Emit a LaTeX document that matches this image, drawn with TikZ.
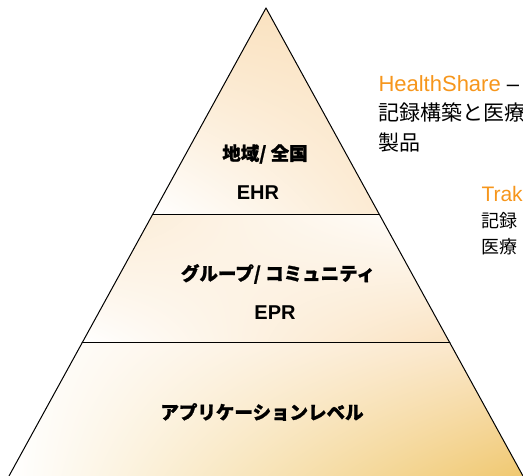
\documentclass[tikz,border=0pt]{standalone}
\usepackage{fontspec}
\setmainfont{Liberation Sans}
\newfontfamily\jpfont[BoldFeatures={FakeBold=1.2}]{Noto Sans CJK JP}
\usetikzlibrary{shadings}

\definecolor{hsorange}{RGB}{246,150,28}
\definecolor{peach}{RGB}{250,226,192}
\definecolor{gold}{RGB}{240,200,112}

\tikzset{
  tierjp/.style={font=\jpfont\bfseries\fontsize{18.5}{22}\selectfont,inner sep=0pt},
  tierlat/.style={font=\bfseries\fontsize{20}{22}\selectfont,inner sep=0pt},
  sidetext/.style={anchor=north west,align=left,inner sep=0pt}
}

\begin{document}
\begin{tikzpicture}[x=1pt,y=-1pt,line width=1pt,line cap=round,line join=round]
\useasboundingbox (0,0) rectangle (523,476);
\clip (0,0) rectangle (523,476);
% pyramid corners
\coordinate (apex) at (266,8);
\coordinate (l1) at (152.4,215);
\coordinate (r1) at (379.6,215);
\coordinate (l2) at (82.1,343);
\coordinate (r2) at (449.9,343);
\coordinate (l3) at (9,476);
\coordinate (r3) at (523,476);
% tiers
\shade[upper left=peach,upper right=peach,lower left=white,lower right=peach!70]
(apex) -- (l1) -- (r1) -- cycle;
\shade[upper left=peach!70,upper right=white,lower left=white,lower right=peach]
(l1) -- (l2) -- (r2) -- (r1) -- cycle;
\shade[upper left=white,upper right=peach!90,lower left=white,lower right=gold]
(l2) -- (l3) -- (r3) -- (r2) -- cycle;
\draw (l3) -- (apex) -- (r3);
\draw (l1) -- (r1) (l2) -- (r2);
% labels
\node[tierjp] (region) at (265,154) {地域/ 全国};
\node[tierlat] (ehr) at (258,193) {EHR};
\node[tierjp] (group) at (278,274) {グループ/ コミュニティ};
\node[tierlat] (epr) at (275,313) {EPR};
\node[tierjp] (app) at (262,412) {アプリケーションレベル};
% side texts
\node[sidetext,font=\fontsize{21}{29.5}\selectfont] (hs) at (378,75)
{{\fontsize{22}{29.5}\selectfont\textcolor{hsorange}{HealthShare} –}\\
\jpfont 記録構築と医療\\
\jpfont 製品};
\node[sidetext,font=\fontsize{18}{26}\selectfont] (trak) at (481,186)
{{\fontsize{21}{26}\selectfont\textcolor{hsorange}{Trak}}\\
\jpfont 記録\\
\jpfont 医療};
\end{tikzpicture}
\end{document}
